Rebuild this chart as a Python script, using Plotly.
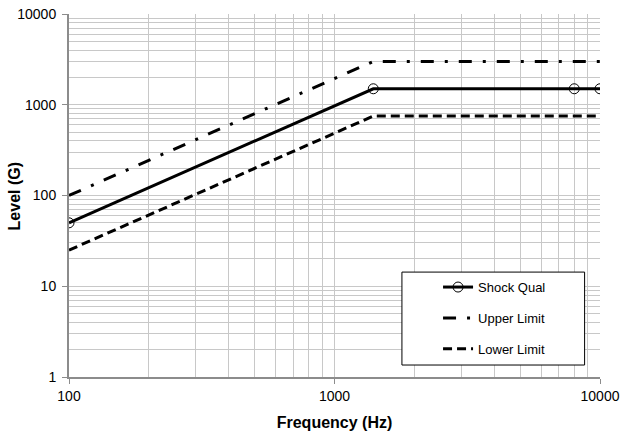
import plotly.graph_objects as go

# Data
qual_freq = [100, 1400, 8000, 10000]
qual_level = [50, 1500, 1500, 1500]
upper_freq = [100, 1400, 10000]
upper_level = [100, 3000, 3000]
lower_freq = [100, 1400, 10000]
lower_level = [25, 750, 750]
x_ticks = [100, 1000, 10000]
y_ticks = [1, 10, 100, 1000, 10000]

fig = go.Figure()
fig.add_trace(go.Scatter(
    x=qual_freq, y=qual_level, mode="lines+markers", name="Shock Qual",
    legendgroup="a",
    line=dict(color="black", width=3),
    marker=dict(symbol="circle-open", size=10, color="black", line=dict(width=1))))
fig.add_trace(go.Scatter(
    x=upper_freq, y=upper_level, mode="lines", name="Upper Limit",
    legendgroup="b",
    line=dict(color="black", width=3, dash="13px,11px,3px,11px")))
fig.add_trace(go.Scatter(
    x=lower_freq, y=lower_level, mode="lines", name="Lower Limit",
    legendgroup="c",
    line=dict(color="black", width=3, dash="9px,5px")))

grid = "#c8c8c8"
axisline = "#8c8c8c"
fig.update_layout(
    width=624, height=434,
    margin=dict(l=69, r=24, t=14, b=57),
    paper_bgcolor="white", plot_bgcolor="white",
    font=dict(family="Liberation Sans, Arial, sans-serif", size=14, color="black"),
    showlegend=True,
    legend=dict(x=0.695, y=0.289, xanchor="left", yanchor="top",
                bgcolor="rgba(0,0,0,0)", borderwidth=0,
                tracegroupgap=11, font=dict(size=13)),
    shapes=[dict(type="rect", xref="paper", yref="paper",
                 x0=0.627, x1=0.971, y0=0.033, y1=0.289,
                 line=dict(color="black", width=1), fillcolor="white",
                 layer="above")],
    annotations=[dict(text="<b>Level (G)</b>", xref="paper", yref="paper",
                      x=-0.102, y=0.497, xanchor="center", yanchor="middle",
                      textangle=-90, showarrow=False, font=dict(size=16))],
)
fig.update_xaxes(
    type="log", range=[2, 4], tickvals=x_ticks, ticktext=[str(v) for v in x_ticks],
    automargin=False, ticklabeloverflow="allow",
    showgrid=True, gridcolor=grid, gridwidth=1,
    minor=dict(dtick="D1", showgrid=True, gridcolor=grid, gridwidth=1, ticks=""),
    showline=True, linecolor=axisline, linewidth=2,
    ticks="outside", ticklen=5, tickcolor=axisline,
    title=dict(text="<b>Frequency (Hz)</b>", font=dict(size=16), standoff=14),
    zeroline=False)
fig.update_yaxes(
    type="log", range=[0, 4], tickvals=y_ticks, ticktext=[str(v) for v in y_ticks],
    automargin=False, ticklabeloverflow="allow", ticklabelstandoff=3,
    showgrid=True, gridcolor=grid, gridwidth=1,
    minor=dict(dtick="D1", showgrid=True, gridcolor=grid, gridwidth=1, ticks=""),
    showline=True, linecolor=axisline, linewidth=2,
    ticks="outside", ticklen=5, tickcolor=axisline,
    zeroline=False)

fig.write_html("out.html", config={"displayModeBar": False},
               post_script="document.body.style.margin='0px';")
